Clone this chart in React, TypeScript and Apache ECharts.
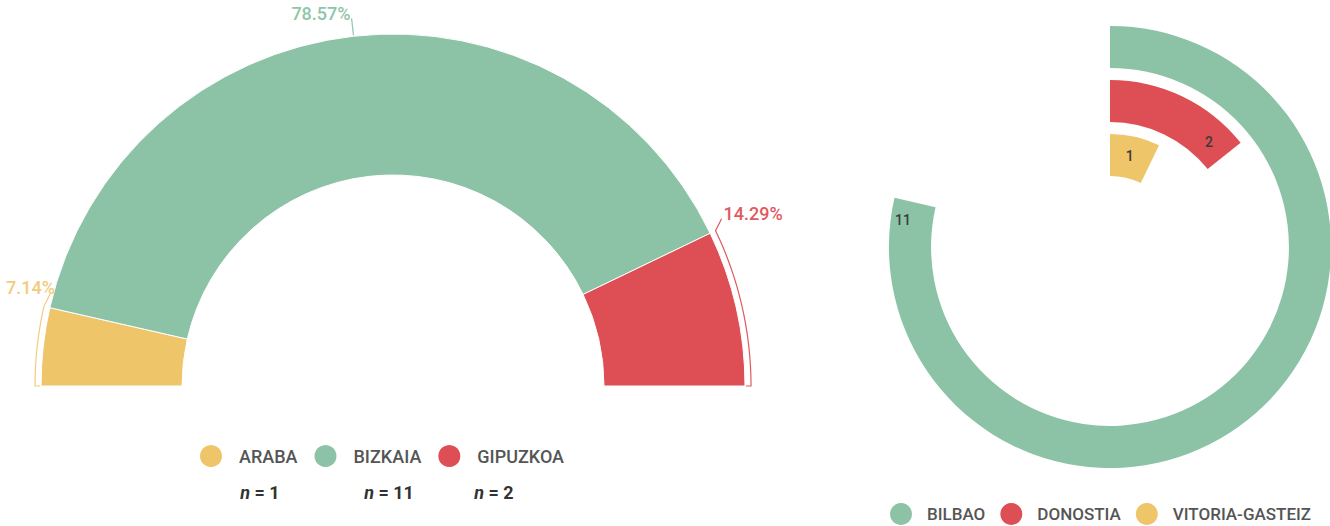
import React, { useEffect, useRef } from 'react';
import * as echarts from 'echarts';

// ---- data ----
const regionNames = ['ARABA', 'BIZKAIA', 'GIPUZKOA'];
const regionCounts = [1, 11, 2];
const regionColors = ['#EFC56A', '#8CC3A6', '#DD4F54'];
const regionLabelColors = ['#F2CB7E', '#8FC5A8', '#E0595E'];

const cityNames = ['BILBAO', 'DONOSTIA', 'VITORIA-GASTEIZ'];
const cityCounts = [11, 2, 1];
const cityColors = ['#8CC3A6', '#DD4F54', '#EFC56A'];
const cityRings = ['VITORIA-GASTEIZ', 'DONOSTIA', 'BILBAO']; // inner -> outer
const cityAngleMax = 14;

// ---- layout ----
const PIE_CENTER = [393, 386];
const PIE_RADIUS = [211, 352];
const POLAR_CENTER = [1110, 247];
const POLAR_RADIUS = [65, 227];
const FONT = 'Roboto';

const total = regionCounts.reduce((a, b) => a + b, 0);
const cum: number[] = [0];
regionCounts.forEach((v) => cum.push(cum[cum.length - 1] + v));

function toXY(deg: number, r: number): number[] {
  const a = (deg * Math.PI) / 180;
  return [PIE_CENTER[0] + r * Math.cos(a), PIE_CENTER[1] - r * Math.sin(a)];
}

function pieLabelLayout(p: any) {
  const i = p.dataIndex;
  const R = PIE_RADIUS[1];
  const a0 = 180 - (180 * cum[i]) / total;
  const a1 = 180 - (180 * cum[i + 1]) / total;
  const w = p.labelRect ? p.labelRect.width : 50;
  if (a0 - a1 > 90) {
    const mid = (a0 + a1) / 2;
    const q0 = toXY(mid, R + 1);
    const q1 = toXY(mid, R + 18);
    return {
      x: q1[0] - 1,
      y: q1[1] + 4,
      align: 'right',
      verticalAlign: 'bottom',
      labelLinePoints: [q0, q1],
    };
  }
  // bracket along the slice
  const topA = Math.abs(a0 - 90) < Math.abs(a1 - 90) ? a0 : a1;
  const botA = topA === a0 ? a1 : a0;
  const rb = R + 6;
  const pts: number[][] = [];
  const left = topA > 90;
  const top = toXY(topA, rb);
  const hook = [top[0] + 6, top[1] - 12];
  pts.push(hook);
  const steps = 24;
  for (let s = 0; s <= steps; s++) {
    pts.push(toXY(topA + ((botA - topA) * s) / steps, rb));
  }
  pts.push(toXY(botA, R + 1));
  if (left) {
    return {
      x: Math.max(hook[0] - 4, w + 6),
      y: hook[1] + 2,
      align: 'right',
      verticalAlign: 'bottom',
      labelLinePoints: pts,
    };
  }
  return {
    x: hook[0] + 2,
    y: hook[1] + 4,
    align: 'left',
    verticalAlign: 'bottom',
    labelLinePoints: pts,
  };
}

export default function App() {
  const ref = useRef<HTMLDivElement>(null);
  useEffect(() => {
    if (!ref.current) return;
    const chart = echarts.init(ref.current, undefined, { renderer: 'svg' });
    const nX = [260, 389, 494];
    chart.setOption({
      animation: false,
      textStyle: { fontFamily: FONT },
      legend: [
        {
          data: regionNames,
          left: 198,
          top: 443,
          padding: 0,
          icon: 'circle',
          itemWidth: 24,
          itemHeight: 24,
          itemGap: 15,
          textStyle: {
            fontFamily: FONT,
            fontSize: 18,
            fontWeight: 500,
            color: '#555',
            padding: [0, 0, 0, 11],
          },
          selectedMode: false,
        },
        {
          data: cityNames,
          left: 890,
          top: 503,
          padding: 0,
          icon: 'circle',
          itemWidth: 22,
          itemHeight: 22,
          itemGap: 15,
          textStyle: {
            fontFamily: FONT,
            fontSize: 17,
            fontWeight: 500,
            color: '#555',
            padding: [0, 0, 0, 10],
          },
          selectedMode: false,
        },
      ],
      graphic: regionCounts.map((n, k) => ({
        type: 'text',
        x: nX[k],
        y: 492,
        style: {
          text: '{i|n} = ' + n,
          align: 'center',
          verticalAlign: 'middle',
          fontFamily: FONT,
          fontSize: 18,
          fontWeight: 'bold',
          fill: '#333',
          rich: {
            i: { fontStyle: 'italic', fontWeight: 'bold', fontSize: 18, fontFamily: FONT, fill: '#333' },
          },
        },
      })),
      polar: { center: POLAR_CENTER, radius: POLAR_RADIUS },
      angleAxis: { type: 'value', min: 0, max: cityAngleMax, startAngle: 90, clockwise: true, show: false },
      radiusAxis: { type: 'category', data: cityRings, show: false },
      series: [
        {
          type: 'pie',
          name: 'regions',
          center: PIE_CENTER,
          radius: PIE_RADIUS,
          startAngle: 180,
          endAngle: 0,
          clockwise: true,
          avoidLabelOverlap: false,
          itemStyle: { borderColor: '#fff', borderWidth: 1 },
          label: {
            show: true,
            position: 'outside',
            formatter: '{d}%',
            fontFamily: FONT,
            fontSize: 18,
            fontWeight: 500,
          },
          labelLine: { show: true, length: 10, length2: 10, lineStyle: { width: 1.2 } },
          labelLayout: pieLabelLayout,
          data: regionNames.map((name, k) => ({
            name,
            value: regionCounts[k],
            itemStyle: { color: regionColors[k] },
            label: { color: regionLabelColors[k] },
            labelLine: { lineStyle: { color: regionLabelColors[k] } },
          })),
        },
        ...cityNames.map((name, k) => ({
          type: 'bar',
          name,
          coordinateSystem: 'polar',
          stack: 'cities',
          barCategoryGap: '22%',
          itemStyle: { color: cityColors[k] },
          label: {
            show: true,
            position: 'insideEnd',
            distance: 18,
            rotate: 0,
            fontFamily: FONT,
            fontSize: 14,
            fontWeight: 500,
            color: '#3a3a3a',
          },
          data: cityRings.map((r) => (r === name ? cityCounts[k] : null)),
        })),
      ],
    });
    return () => chart.dispose();
  }, []);
  return (
    <div
      ref={ref}
      style={{ position: 'fixed', left: 0, top: 0, width: 1330, height: 526, background: '#fff' }}
    />
  );
}
